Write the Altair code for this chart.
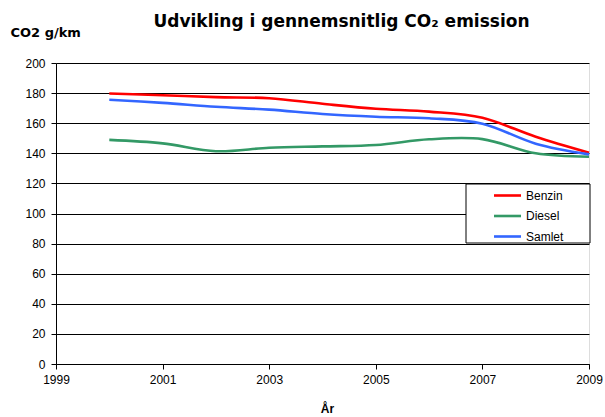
import altair as alt
import pandas as pd

# Average CO2 emission per km for new cars, by fuel type
years = [2000, 2001, 2002, 2003, 2004, 2005, 2006, 2007, 2008, 2009]
benzin = [179.7, 178.6, 177.3, 176.6, 172.9, 169.6, 167.7, 163.6, 151.0, 140.4]
diesel = [148.9, 146.6, 141.4, 143.7, 144.6, 145.5, 149.3, 149.4, 140.0, 137.7]
samlet = [175.6, 173.5, 170.9, 169.0, 166.1, 164.3, 163.3, 159.7, 146.4, 139.3]

series_names = ["Benzin", "Diesel", "Samlet"]
series_colors = ["#FF0000", "#339966", "#3366FF"]
x_ticks = [1999, 2001, 2003, 2005, 2007, 2009]
y_ticks = [0, 20, 40, 60, 80, 100, 120, 140, 160, 180, 200]

rows = []
for name, vals in zip(series_names, [benzin, diesel, samlet]):
    for yr, v in zip(years, vals):
        rows.append({"year": yr, "value": v, "series": name})
df = pd.DataFrame(rows)

LABEL_FONT = "Liberation Sans"
TITLE_FONT = "DejaVu Sans"

lines = alt.Chart(df).mark_line(interpolate="cardinal", strokeWidth=2.6).encode(
    x=alt.X(
        "year:Q",
        scale=alt.Scale(domain=[1999, 2009], nice=False, zero=False),
        axis=alt.Axis(
            values=x_ticks, format="d", title="År", grid=False,
            domainColor="black", tickColor="black", tickSize=5,
            labelPadding=5, labelFont=LABEL_FONT, labelFontSize=12,
            labelColor="black", labelFlush=False,
            titleFont=LABEL_FONT, titleFontSize=12, titleFontWeight="bold",
            titleColor="black", titleX=271, titleY=48,
            titleAlign="center", titleBaseline="alphabetic",
        ),
    ),
    y=alt.Y(
        "value:Q",
        scale=alt.Scale(domain=[0, 200], nice=False),
        axis=alt.Axis(
            values=y_ticks, title="CO2 g/km", grid=True, gridColor="black",
            gridOpacity=1, gridWidth=1, domainColor="black", tickColor="black",
            tickSize=5, labelPadding=6, labelFont=LABEL_FONT, labelFontSize=12,
            labelColor="black",
            titleFont=TITLE_FONT, titleFontSize=13, titleFontWeight="bold",
            titleColor="black", titleAngle=0, titleX=-46, titleY=-27,
            titleAlign="left", titleBaseline="alphabetic",
        ),
    ),
    color=alt.Color(
        "series:N",
        scale=alt.Scale(domain=series_names, range=series_colors),
        legend=alt.Legend(
            title=None, orient="none", legendX=443, legendY=124,
            symbolType="M-2,0H2", symbolSize=182, symbolStrokeWidth=2.6,
            labelFont=LABEL_FONT, labelFontSize=12, labelColor="black",
            labelOffset=10, rowPadding=5.5, padding=0,
        ),
    ),
)

# White framed box behind the legend entries
legend_box = alt.Chart(pd.DataFrame({"box": [0]})).mark_rect(
    fill="white", stroke="black", strokeWidth=1
).encode(
    x=alt.value(410), x2=alt.value(534), y=alt.value(121), y2=alt.value(180)
)

chart = alt.layer(legend_box, lines).properties(
    width=533,
    height=301,
    title=alt.TitleParams(
        "Udvikling i gennemsnitlig CO₂ emission",
        font=TITLE_FONT, fontSize=17, fontWeight="bold", color="black",
        anchor="middle", baseline="alphabetic", offset=10, dx=19, dy=28,
    ),
    autosize=alt.AutoSizeParams(type="none"),
    padding={"left": 56, "top": 63, "right": 16, "bottom": 53},
).configure_view(stroke=None).configure(background="white")

chart.save("out.html", embed_options={"renderer": "svg", "actions": False})
